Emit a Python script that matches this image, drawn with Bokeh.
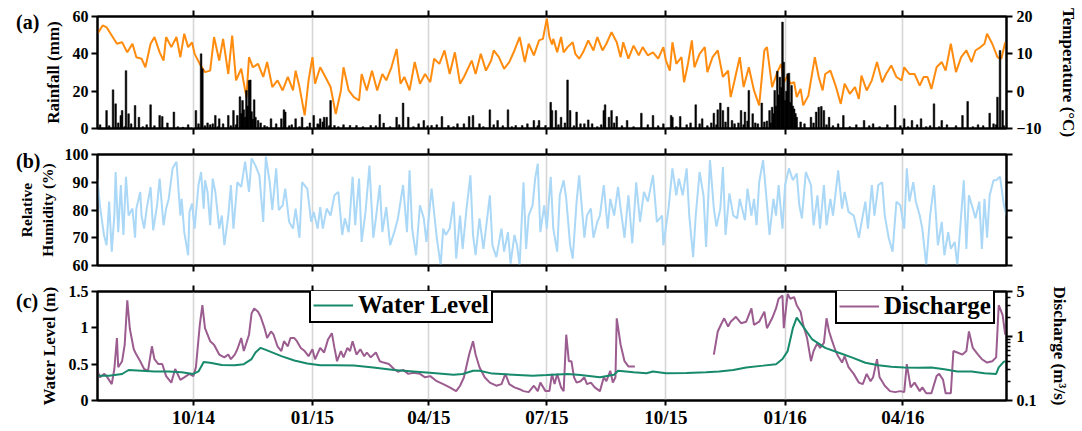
import pandas as pd
from bokeh.plotting import figure
from bokeh.layouts import column
from bokeh.models import (Range1d, LinearAxis, LogAxis, LogScale, DatetimeAxis, FixedTicker, Div,
                          DatetimeTickFormatter, CustomJSTickFormatter, Legend, LegendItem)
from bokeh.embed import file_html
from bokeh.resources import INLINE

# ---------------- data (days since 2014-07-19) ----------------
START = pd.Timestamp("2014-07-19")
N_DAYS = 702
tick_dates = ["2014-10-01", "2015-01-01", "2015-04-01", "2015-07-01", "2015-10-01", "2016-01-01", "2016-04-01"]
panel_names = ["(a)", "(b)", "(c)"]

temp_day = [0, 4, 7, 11, 15, 19, 23, 27, 30, 34, 37, 41, 44, 48, 51, 53, 57, 61, 64, 67,
            70, 73, 75, 79, 83, 87, 90, 94, 97, 101, 104, 107, 111, 115, 117, 120, 124, 128, 131, 135,
            139, 143, 147, 151, 153, 156, 160, 163, 166, 168, 172, 176, 180, 184, 188, 190, 194, 198, 202, 204,
            208, 212, 216, 220, 223, 227, 231, 234, 237, 241, 245, 249, 253, 257, 260, 264, 268, 272, 276, 280,
            283, 289, 292, 296, 300, 304, 306, 310, 314, 318, 322, 326, 330, 333, 337, 341, 344, 347, 349, 351,
            352, 355, 358, 360, 363, 367, 369, 372, 375, 379, 383, 386, 390, 393, 397, 401, 404, 406, 410, 414,
            418, 421, 425, 429, 433, 437, 439, 442, 444, 447, 451, 453, 456, 459, 461, 465, 469, 471, 475, 479,
            483, 487, 489, 492, 496, 499, 503, 507, 511, 515, 517, 521, 525, 528, 530, 533, 535, 538, 540, 543,
            545, 549, 554, 557, 560, 562, 566, 570, 574, 577, 581, 585, 588, 590, 594, 598, 602, 606, 609, 613,
            617, 621, 623, 627, 631, 635, 638, 641, 644, 648, 652, 655, 659, 663, 667, 671, 675, 678, 682, 685,
            687, 691, 695, 698, 701]
temp_c = [15.4, 17.6, 17.1, 14.9, 12.7, 13.1, 10.4, 12.7, 9.1, 8.7, 6.4, 12.7, 14.5, 10.4, 8.2, 14.5, 11.8, 14.5, 9.1, 15.4,
          11.8, 13.1, 10.0, 7.3, 5.1, 5.5, 14.5, 8.2, 14.0, 4.6, 14.9, 2.9, 6.0, -1.6, 9.1, 6.4, 7.3, 3.8, 7.8, 1.1,
          2.9, 0.2, 3.8, 0.2, 5.5, 1.1, -6.5, 2.9, 9.1, 2.0, 6.4, 3.8, 1.1, -6.1, 0.2, 6.4, 0.2, -1.6, -2.5, 4.6,
          0.2, 5.5, 0.2, 4.6, 2.9, 6.4, 11.3, 2.0, 3.8, 0.2, 7.8, 2.0, 4.6, 2.4, 8.7, 7.3, 10.9, 4.6, 10.4, 2.0,
          3.8, 8.2, 4.6, 10.0, 5.5, 8.2, 10.9, 9.1, 6.0, 7.8, 10.9, 14.5, 7.8, 12.7, 9.6, 13.6, 14.0, 19.4, 14.5, 12.5,
          14.0, 10.4, 14.5, 10.4, 11.8, 13.1, 10.0, 8.7, 10.4, 13.6, 10.9, 14.5, 10.9, 12.7, 15.8, 13.1, 9.1, 13.1, 8.7, 12.2,
          9.6, 11.8, 9.6, 10.4, 8.7, 11.8, 8.2, 5.5, 13.1, 7.3, 9.1, 2.4, 7.3, 13.6, 6.4, 10.0, 11.8, 5.1, 9.1, 10.9,
          3.8, 5.5, -1.6, 2.9, 9.1, 1.1, 6.4, 0.2, -3.8, 10.9, 11.8, 1.1, 5.1, 7.3, 2.4, 4.2, 2.0, 2.4, -1.6, 0.6,
          -3.8, -1.2, 9.1, 3.8, 0.2, 4.6, 5.5, 1.5, -3.4, 2.0, -0.7, 1.1, -2.1, 4.2, 0.2, 2.9, 7.8, 2.4, 4.6, 6.9,
          3.8, 2.9, 6.4, 4.6, 4.6, 1.5, 3.8, 3.8, 0.6, 6.4, 7.8, 5.5, 12.7, 5.1, 9.1, 10.9, 7.8, 10.9, 11.8, 12.7,
          15.4, 12.7, 9.1, 8.7, 13.1]

rain_day = [7, 12, 14, 18, 19, 22, 24, 29, 32, 41, 48, 50, 59, 66, 76, 80, 81, 89, 91, 94,
            101, 105, 108, 110, 111, 112, 113, 114, 115, 116, 117, 118, 119, 120, 121, 122, 124, 129, 134, 142,
            144, 145, 153, 158, 162, 167, 172, 175, 177, 180, 183, 195, 200, 211, 218, 221, 231, 236, 240, 248,
            252, 258, 266, 271, 278, 287, 290, 295, 303, 309, 317, 323, 328, 337, 341, 346, 350, 351, 354, 358,
            363, 365, 370, 373, 379, 382, 391, 392, 395, 397, 401, 409, 420, 429, 443, 444, 450, 462, 467, 476,
            479, 481, 483, 487, 490, 497, 500, 503, 506, 513, 519, 521, 522, 523, 524, 525, 526, 527, 528, 529,
            530, 531, 532, 533, 534, 535, 536, 537, 538, 539, 540, 551, 555, 557, 559, 561, 565, 576, 592, 599,
            616, 623, 629, 636, 646, 652, 668, 672, 689, 695, 697, 699,
            2, 9, 16, 21, 26, 35, 38, 44, 54, 62, 70, 78, 83, 85, 87, 93, 97, 103, 107, 126,
            131, 138, 148, 150, 156, 164, 170, 171, 174, 179, 186, 190, 205, 215, 226, 233, 244, 255, 262, 275,
            283, 298, 306, 313, 320, 332, 340, 356, 361, 368, 376, 386, 389, 399, 405, 414, 425, 433, 437, 447,
            455, 458, 465, 471, 474, 478, 485, 492, 495, 499, 502, 508, 510, 515, 517, 520, 543, 546, 553, 563,
            568, 572, 581, 586, 596, 604, 610, 620, 626, 633, 640, 643, 650, 656, 663, 676, 680, 684, 692, 694, 700]
rain_mm = [9.6, 20.7, 13.2, 6.9, 9.6, 31, 7.9, 12.3, 6, 12.7, 7, 6.4, 8.8, 0.7, 9.6, 40, 32, 2.5, 7, 5.2,
           7, 9.6, 7, 17, 8, 15, 10, 6, 20.4, 12, 25.7, 26, 9, 5, 15.4, 6, 4.3, 1.6, 5.2, 5.2,
           10, 8.8, 5.2, 6, 1, 7, 5.2, 6, 6, 15, 1.6, 1.6, 1.6, 1.6, 7.5, 2.9, 6, 13.6, 6, 2.5,
           4.3, 1.6, 6.4, 1.6, 2.5, 6.4, 7, 2.5, 10, 4.3, 10, 1.6, 1.6, 4.3, 4.3, 1.6, 14, 9.6, 9.6, 6,
           26, 9.6, 8.8, 2.5, 4.6, 2.5, 9.6, 12.7, 6, 9.6, 6.4, 4.3, 8.2, 7, 7, 6, 6.4, 12.7, 5.2, 8.2,
           10, 13.6, 9.6, 11.4, 4.3, 9.6, 8.8, 20.4, 7.9, 13.6, 9.6, 11.4, 8, 20.4, 12, 30.7, 18, 27.5, 22, 57,
           35.5, 15, 20, 29.3, 29.6, 14, 23, 12, 10.5, 8, 6, 6, 8.8, 11.4, 11.8, 9.6, 6, 7, 4.3, 2.5,
           12.3, 5.2, 4.3, 5.2, 13.2, 4.3, 7, 14.5, 8.2, 16.8, 41.8, 9.6,
           2, 1.5, 3, 1, 2.5, 1, 2, 1.5, 3, 1, 2, 2.5, 1.5, 3, 2, 1, 2.5, 1.5, 2, 3,
           1, 2.5, 1.5, 2, 1, 3, 2.5, 2, 3.5, 1.5, 1, 2, 1, 1.5, 1, 2, 1, 1.5, 2, 1,
           2.5, 1, 2, 1.5, 1, 2.5, 1.5, 2, 3, 1.5, 2.5, 1, 2, 3, 1.5, 1, 2, 1.5, 2.5, 1,
           2, 3, 2.5, 1.5, 3, 2, 3.5, 2.5, 3, 2, 4, 3, 2.5, 3.5, 4, 3, 3.5, 2.5, 3, 2,
           1.5, 2.5, 1, 2, 1.5, 1, 2, 1.5, 1, 2, 1, 1.5, 1, 2, 1.5, 1, 2, 1.5, 2.5, 2, 1.5]

hum_day = [0, 2, 5, 7, 9, 11, 13, 14, 16, 18, 20, 22, 24, 27, 29, 30, 33, 34, 36, 38,
           41, 43, 46, 48, 51, 53, 55, 58, 61, 64, 65, 67, 70, 71, 73, 75, 78, 80, 82, 83,
           85, 87, 89, 91, 94, 96, 98, 101, 103, 105, 108, 111, 114, 117, 119, 122, 125, 128, 130, 133,
           135, 138, 140, 143, 145, 148, 151, 153, 156, 158, 162, 165, 167, 170, 172, 174, 177, 180, 183, 186,
           189, 191, 194, 197, 199, 202, 204, 207, 210, 213, 215, 218, 220, 223, 226, 230, 232, 236, 239, 241,
           243, 246, 249, 252, 254, 258, 262, 265, 267, 269, 272, 275, 277, 280, 282, 285, 288, 290, 292, 295,
           298, 300, 303, 305, 308, 312, 314, 317, 319, 322, 324, 326, 329, 331, 333, 336, 338, 340, 342, 345,
           347, 350, 352, 355, 357, 360, 362, 365, 367, 370, 372, 376, 378, 381, 383, 386, 388, 391, 394, 396,
           399, 402, 404, 407, 410, 413, 416, 419, 422, 425, 429, 432, 436, 437, 441, 444, 447, 449, 452, 455,
           457, 460, 462, 465, 468, 470, 473, 476, 478, 481, 483, 485, 488, 491, 494, 496, 500, 502, 505, 507,
           509, 511, 514, 516, 519, 522, 524, 526, 529, 531, 534, 537, 540, 542, 544, 547, 551, 553, 556, 558,
           561, 563, 566, 568, 572, 575, 577, 580, 584, 588, 591, 593, 595, 598, 600, 603, 606, 608, 611, 614,
           617, 620, 623, 625, 627, 630, 632, 635, 637, 640, 643, 646, 649, 652, 654, 657, 659, 662, 664, 666,
           669, 671, 673, 676, 678, 681, 683, 685, 687, 689, 692, 694, 697, 700, 702]
hum_pct = [91.3, 81, 71, 67.3, 83, 65, 78, 93.7, 72, 89, 71, 92, 78, 80.5, 70, 80.5, 86.5, 78, 73.3, 80.5,
           88.3, 72.7, 81.7, 91.3, 74.5, 80.5, 84, 95, 97.4, 78, 84, 72, 63.7, 79.3, 82.3, 73.3, 89, 93.7, 80.5, 90.7,
           86.5, 74.5, 91.3, 86.5, 73.3, 78, 67.3, 78, 89, 73.3, 90, 88.3, 97.4, 86.5, 98.6, 96, 92.5, 75.7, 99.2, 90,
           80, 95, 80, 81.7, 87.7, 75.7, 73.3, 80.5, 70, 90, 87.7, 75.7, 79.3, 73.3, 81, 73.3, 80.5, 78, 85.3, 86.5,
           71, 77, 72, 92, 74.5, 91.3, 68.5, 79.3, 96, 70, 77, 89, 72, 81, 67.3, 73.3, 77, 89, 72, 94.3,
           73.3, 63.7, 81.7, 77, 68.5, 87.7, 70, 60.1, 73.3, 71, 73.3, 83, 62.5, 78, 66, 80.5, 92.5, 71, 63.7, 77,
           66, 73.3, 85.3, 67.3, 63, 73.3, 65, 72, 60.7, 71, 67.3, 60, 90, 66, 78, 81.7, 91.3, 96.7, 72, 81.7,
           73.3, 92, 73.3, 65, 85.3, 90.7, 84, 67.3, 62.5, 83, 92.5, 70, 78, 80.5, 70, 75.7, 78, 89, 73.3, 84,
           78, 88.3, 80.5, 70, 85.3, 68, 90, 75.7, 86.5, 83, 92.5, 75.7, 78, 67.3, 80.5, 95, 85.3, 91.3, 85.3, 95,
           78, 63, 78, 93.7, 85.3, 66.7, 98, 80.5, 74, 80.5, 95.5, 71, 86, 78, 77, 84, 76.3, 87.7, 78, 84,
           74.5, 90, 98, 87.7, 71, 84, 78, 89, 73.3, 89, 95, 90.7, 93.2, 81.7, 77, 93.7, 89, 74.5, 85.3, 73.3,
           89, 74.5, 84, 78, 94.3, 80.5, 86.5, 79.3, 78, 70, 78, 83, 73.3, 89, 78, 89, 90, 78, 70, 65,
           83, 81.7, 73.3, 95, 83, 90, 83, 78, 73.3, 60.1, 78, 89, 67.3, 75.7, 63.7, 72, 66, 68.5, 60.1, 72,
           90.7, 66, 85.3, 80.5, 77, 83, 66, 84, 70, 85.3, 90.7, 90.7, 92, 81.7, 78]

wl_day = [0, 9, 19, 24, 34, 44, 55, 65, 74, 78, 82, 87, 96, 106, 113, 119, 122, 126, 131, 142,
          152, 162, 172, 183, 198, 213, 229, 244, 259, 275, 282, 290, 295, 305, 321, 336, 347, 363, 373, 388,
          399, 402, 414, 424, 429, 439, 455, 470, 480, 491, 501, 514, 524, 529, 533, 537, 540, 544, 552, 562,
          572, 583, 593, 603, 613, 623, 634, 644, 654, 664, 675, 685, 694, 696, 700, 702]
wl_m = [0.34, 0.34, 0.365, 0.42, 0.41, 0.40, 0.40, 0.39, 0.365, 0.40, 0.53, 0.52, 0.49, 0.485, 0.50, 0.57, 0.66, 0.725, 0.69, 0.61,
        0.55, 0.51, 0.485, 0.485, 0.48, 0.455, 0.42, 0.40, 0.38, 0.355, 0.365, 0.41, 0.41, 0.37, 0.355, 0.34, 0.35, 0.365, 0.35, 0.32,
        0.355, 0.41, 0.39, 0.375, 0.40, 0.375, 0.38, 0.39, 0.40, 0.42, 0.455, 0.48, 0.50, 0.57, 0.68, 0.995, 1.14, 1.04, 0.84, 0.725,
        0.66, 0.59, 0.52, 0.485, 0.465, 0.455, 0.45, 0.455, 0.43, 0.40, 0.40, 0.375, 0.365, 0.455, 0.535, 0.54]

q_day = [0, 2, 5, 7, 11, 13, 15, 16, 19, 21, 23, 25, 28, 30, 33, 36, 39, 42, 44, 47,
         50, 53, 57, 60, 64, 67, 71, 74, 76, 79, 81, 83, 87, 90, 94, 98, 101, 103, 106, 108,
         111, 113, 117, 119, 121, 124, 126, 129, 131, 134, 136, 139, 142, 144, 147, 149, 152, 154, 157, 160,
         163, 166, 168, 172, 175, 178, 181, 183, 185, 188, 190, 193, 195, 197, 200, 203, 206, 208, 211, 215,
         218, 221, 225, 229, 232, 236, 240, 244, 249, 253, 257, 262, 267, 272, 277, 280, 283, 287, 290, 292,
         295, 299, 303, 308, 312, 315, 318, 322, 326, 329, 333, 337, 340, 342, 346, 349, 351, 353, 355, 358,
         360, 362, 364, 366, 368, 370, 373, 376, 378, 381, 384, 388, 391, 393, 396, 398, 400, 401, 404, 407,
         410, 413, 415, 445, 476, 479, 482, 484, 487, 489, 493, 497, 501, 505, 507, 511, 515, 517, 521, 524,
         526, 529, 530, 533, 535, 538, 540, 543, 545, 548, 551, 553, 556, 558, 561, 563, 565, 567, 570, 572,
         575, 577, 580, 584, 588, 591, 594, 597, 599, 602, 604, 608, 612, 616, 620, 623, 625, 628, 631, 635,
         637, 640, 644, 648, 650, 653, 655, 659, 661, 664, 668, 671, 673, 676, 680, 683, 687, 691, 694, 696,
         699, 701]
q_m3s = [0.29, 0.23, 0.26, 0.24, 0.18, 0.31, 0.94, 0.33, 0.41, 0.74, 3.64, 1.3, 0.63, 0.52, 0.41, 0.31, 0.29, 0.70, 0.44, 0.37,
         0.37, 0.24, 0.19, 0.31, 0.21, 0.23, 0.26, 0.24, 0.33, 1.51, 3.06, 1.34, 0.84, 0.74, 0.52, 0.47, 0.52, 0.44, 0.52, 0.63,
         0.94, 0.59, 1.06, 2.28, 2.72, 2.42, 2.02, 1.34, 0.94, 1.19, 1.06, 0.70, 0.59, 0.84, 0.70, 0.94, 0.94, 0.84, 0.66, 0.59,
         0.49, 0.63, 0.44, 0.66, 0.56, 0.89, 1.12, 0.66, 0.41, 0.59, 0.47, 0.66, 0.59, 0.84, 0.52, 0.63, 0.49, 0.56, 0.47, 0.56,
         0.41, 0.39, 0.37, 0.31, 0.28, 0.30, 0.26, 0.27, 0.26, 0.23, 0.24, 0.20, 0.18, 0.16, 0.14, 0.17, 0.23, 0.52, 0.84, 0.52,
         0.33, 0.23, 0.19, 0.17, 0.18, 0.26, 0.18, 0.16, 0.15, 0.14, 0.135, 0.17, 0.14, 0.19, 0.14, 0.14, 0.26, 0.18, 0.26, 0.16,
         0.14, 1.06, 0.41, 0.41, 0.23, 0.19, 0.20, 0.23, 0.18, 0.19, 0.16, 0.14, 0.23, 0.20, 0.29, 0.19, 0.23, 1.91, 0.74, 0.41,
         0.34, 0.34, 0.34, float("nan"), 0.52, 1.19, 1.6, 1.91, 1.42, 1.69, 2.02, 1.6, 1.69, 2.72, 1.51, 1.69, 2.42, 1.34, 1.91, 2.72,
         3.85, 4.32, 1.34, 4.58, 3.85, 4.09, 3.06, 2.42, 1.51, 0.94, 0.41, 0.59, 0.79, 0.66, 0.79, 1.91, 1.19, 0.89, 0.59, 0.49,
         0.39, 0.49, 0.33, 0.26, 0.19, 0.18, 0.26, 0.20, 0.23, 0.44, 0.23, 0.17, 0.14, 0.135, 0.14, 0.135, 0.37, 0.16, 0.19, 0.14,
         0.16, 0.13, 0.13, 0.24, 0.26, 0.21, 0.13, 0.13, 0.59, 0.56, 0.52, 0.59, 1.19, 0.66, 0.52, 0.44, 0.39, 0.41, 0.47, 3.06,
         2.15, 1.06]

# ---------------- helpers ----------------
FONT = "Liberation Serif"
WIDTH = 1080
MS_DAY = 86400000

def to_dt(days):
    return START + pd.to_timedelta(days, unit="D")

def to_ms(ts):
    return float((ts - pd.Timestamp("1970-01-01")) / pd.Timedelta(milliseconds=1))

tick_ms = [int(to_ms(pd.Timestamp(t))) for t in tick_dates]
x_range = Range1d(start=START, end=START + pd.Timedelta(days=N_DAYS))

def dt_formatter():
    f = "%m/%y"
    return DatetimeTickFormatter(microseconds=f, milliseconds=f, seconds=f, minsec=f, minutes=f,
                                 hourmin=f, hours=f, days=f, months=f, years=f)

def style_axis(ax, labels=True, size="16px", tick_out=6, standoff=3, label_standoff=7, label_size="17px"):
    ax.axis_line_width = 2
    ax.axis_line_color = "black"
    ax.major_tick_line_width = 2
    ax.major_tick_line_color = "black"
    ax.major_tick_in = 0
    ax.major_tick_out = tick_out
    ax.minor_tick_line_color = None
    ax.major_label_text_font = FONT
    ax.major_label_text_font_style = "bold"
    if labels:
        ax.major_label_text_color = "black"
        ax.major_label_text_font_size = size
        ax.major_label_standoff = standoff
    else:
        ax.major_label_text_color = None
        ax.major_label_text_font_size = "1px"
        ax.major_label_standoff = 0
    ax.axis_label_text_font = FONT
    ax.axis_label_text_font_style = "bold"
    ax.axis_label_text_font_size = label_size
    ax.axis_label_text_color = "black"
    ax.axis_label_standoff = label_standoff

def make_fig(height, top, bottom, y_range):
    p = figure(width=WIDTH, height=height, x_axis_type="datetime", x_range=x_range, y_range=y_range,
               output_backend="svg", toolbar_location=None,
               min_border_left=97, min_border_right=68, min_border_top=top, min_border_bottom=bottom)
    p.outline_line_color = "black"
    p.outline_line_width = 2
    p.outline_line_alpha = 1
    p.ygrid.visible = False
    p.xgrid.ticker = FixedTicker(ticks=tick_ms)
    p.xgrid.grid_line_color = "#d6d6d6"
    p.xgrid.grid_line_width = 1.6
    p.background_fill_color = "white"
    p.border_fill_color = "white"
    bottom_ax = p.below[0]
    bottom_ax.ticker = FixedTicker(ticks=tick_ms)
    bottom_ax.formatter = dt_formatter()
    top_ax = DatetimeAxis(ticker=FixedTicker(ticks=tick_ms), formatter=dt_formatter())
    style_axis(top_ax, labels=False)
    p.add_layout(top_ax, "above")
    return p

def panel_div(text, top):
    return Div(text=text, width=40, height=26,
               styles={"position": "absolute", "left": "11px", "top": f"{top}px",
                       "font-family": FONT, "font-weight": "bold", "font-size": "20px",
                       "color": "black", "line-height": "22px", "z-index": "10"})

# ---------------- (a) rainfall & temperature ----------------
p1 = make_fig(141, 16, 13, Range1d(0, 60))
p1.extra_y_ranges = {"temp": Range1d(-10, 20)}
p1.line(x=to_dt(temp_day), y=temp_c, y_range_name="temp", line_color="#ff8c0f", line_width=2)
p1.vbar(x=to_dt(rain_day), top=rain_mm, bottom=0, width=1.3 * MS_DAY, fill_color="black", line_color="black",
        line_width=0.5)
style_axis(p1.below[0], labels=False)
p1.left[0].ticker = FixedTicker(ticks=[0, 20, 40, 60])
p1.left[0].axis_label = "Rainfall (mm)"
style_axis(p1.left[0])
ax_t = LinearAxis(y_range_name="temp", ticker=FixedTicker(ticks=[-10, 0, 10, 20]), axis_label="Temperature (°C)")
style_axis(ax_t, standoff=4, label_standoff=14)
p1.add_layout(ax_t, "right")

# ---------------- (b) relative humidity ----------------
p2 = make_fig(137, 13, 13, Range1d(60, 100))
p2.line(x=to_dt(hum_day), y=hum_pct, line_color="#aad8f6", line_width=2)
style_axis(p2.below[0], labels=False)
p2.left[0].ticker = FixedTicker(ticks=[60, 70, 80, 90, 100])
p2.left[0].axis_label = "Relative\nHumidity (%)"
style_axis(p2.left[0], label_size="15.5px", label_standoff=6)
ax_r = LinearAxis(ticker=FixedTicker(ticks=[60, 70, 80, 90, 100]))
style_axis(ax_r, labels=False)
p2.add_layout(ax_r, "right")

# ---------------- (c) water level & discharge ----------------
p3 = make_fig(152, 13, 28, Range1d(0, 1.5))
p3.extra_y_ranges = {"q": Range1d(0.1, 5)}
p3.extra_y_scales = {"q": LogScale()}
r_q = p3.line(x=to_dt(q_day), y=q_m3s, y_range_name="q", line_color="#9b5c8f", line_width=2)
r_wl = p3.line(x=to_dt(wl_day), y=wl_m, line_color="#178a6b", line_width=2)
style_axis(p3.below[0], labels=True, size="19px", tick_out=5, standoff=1)
p3.left[0].ticker = FixedTicker(ticks=[0, 0.5, 1, 1.5])
p3.left[0].formatter = CustomJSTickFormatter(code="return String(tick)")
p3.left[0].axis_label = "Water Level (m)"
style_axis(p3.left[0])
ax_q = LogAxis(y_range_name="q",
               ticker=FixedTicker(ticks=[0.1, 1, 5], minor_ticks=[0.2, 0.3, 0.4, 0.5, 0.6, 0.7, 0.8, 0.9, 2, 3, 4]),
               formatter=CustomJSTickFormatter(code="return String(tick)"),
               axis_label="Discharge (m³/s)")
style_axis(ax_q, standoff=4, label_standoff=10)
ax_q.minor_tick_line_color = "black"
ax_q.minor_tick_line_width = 1.5
ax_q.minor_tick_in = 0
ax_q.minor_tick_out = 4
p3.add_layout(ax_q, "right")

def legend_box(item, renderer, loc):
    return Legend(items=[LegendItem(label=item, renderers=[renderer])], location=loc,
                  border_line_color="black", border_line_width=2, border_line_alpha=1,
                  background_fill_color="white", background_fill_alpha=1,
                  label_text_font=FONT, label_text_font_style="bold", label_text_font_size="25px",
                  label_text_color="black", glyph_width=40, glyph_height=28, label_height=28,
                  label_standoff=5, padding=2, margin=0, spacing=0)

p3.add_layout(legend_box("Water Level", r_wl, (212, 77)))
p3.add_layout(legend_box("Discharge", r_q, (738, 76)))

labels = [panel_div(panel_names[0], 6), panel_div(panel_names[1], 145), panel_div(panel_names[2], 285)]
layout = column(p1, p2, p3, *labels, spacing=0)
with open("out.html", "w") as fh:
    fh.write(file_html(layout, INLINE, title="Rainfall, temperature, humidity, water level and discharge"))
